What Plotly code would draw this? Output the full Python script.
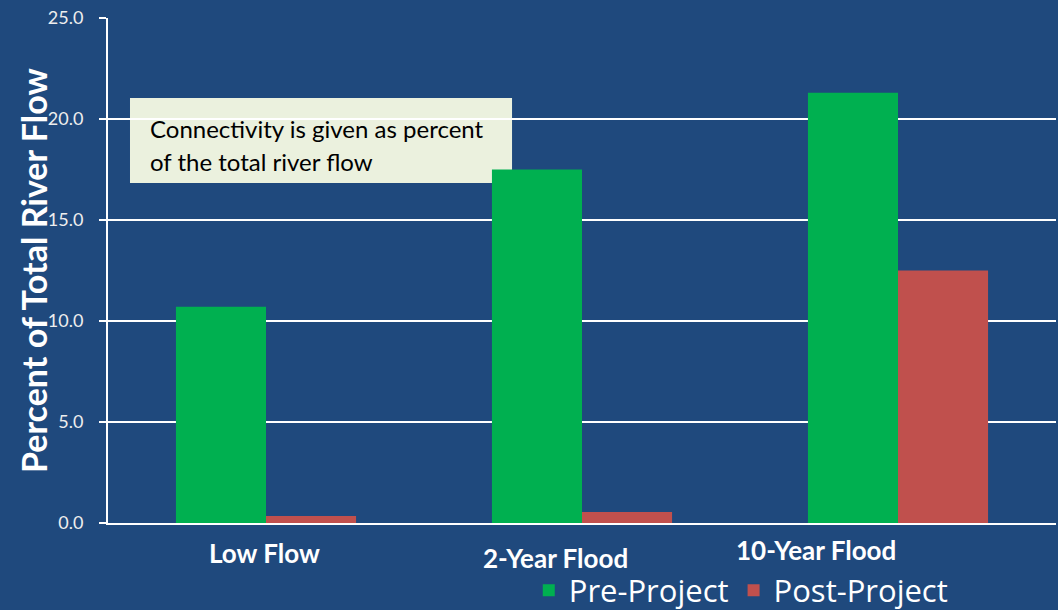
import plotly.graph_objects as go

categories = ["Low Flow", "2-Year Flood", "10-Year Flood"]
pre_project = [10.7, 17.5, 21.3]
post_project = [0.35, 0.55, 12.5]
y_ticks = [0, 5, 10, 15, 20, 25]

BG = "#1F497D"
FONT = "Lato"

fig = go.Figure()
fig.add_trace(go.Bar(x=categories, y=pre_project, name="Pre-Project",
                     marker=dict(color="#00B050", line=dict(width=0))))
fig.add_trace(go.Bar(x=categories, y=post_project, name="Post-Project",
                     marker=dict(color="#C0504D", line=dict(width=0))))

fig.update_layout(
    width=1058, height=610,
    paper_bgcolor=BG, plot_bgcolor=BG,
    margin=dict(l=108, r=2, t=18, b=87, autoexpand=False),
    barmode="group", bargap=0.43, bargroupgap=0,
    font=dict(family=FONT, color="white"),
    showlegend=True,
    legend=dict(orientation="h", x=0.668, xanchor="center", y=-0.134, yanchor="middle",
                font=dict(size=31, color="white", family="Open Sans"),
                bgcolor="rgba(0,0,0,0)", itemwidth=30, tracegroupgap=0),
    xaxis=dict(range=[-0.5, 2.5], showticklabels=False, showgrid=False,
               showline=True, linecolor="white", linewidth=2, ticks="", zeroline=False),
    yaxis=dict(range=[0, 25], tickvals=y_ticks, tickformat=".1f",
               showgrid=True, gridcolor="white", gridwidth=1.5,
               showline=True, linecolor="white", linewidth=2,
               ticks="outside", ticklen=7, tickcolor="white", tickwidth=1.5,
               ticklabelstandoff=12,
               tickfont=dict(size=18, color="#EEEEEE", family=FONT),
               zeroline=False),
)

# y-axis title
fig.add_annotation(x=-0.0786, xref="paper", y=0.5, yref="paper",
                   text="<b>Percent of Total River Flow</b>", textangle=-90,
                   showarrow=False, xanchor="center", yanchor="middle",
                   font=dict(size=34, color="white", family=FONT))

# category labels (at slightly different heights as in the original)
label_offsets = [(-2, -30), (-27, -35), (-82, -27)]
for cat, (dx, dy) in zip(categories, label_offsets):
    fig.add_annotation(x=cat, xref="x", y=0, yref="paper", text=f"<b>{cat}</b>",
                       showarrow=False, xanchor="center", yanchor="middle",
                       xshift=dx, yshift=dy,
                       font=dict(size=26, color="white", family=FONT))

# note box
fig.add_shape(type="rect", xref="paper", yref="paper",
              x0=0.0232, x1=0.4262, y0=0.6733, y1=0.8416,
              fillcolor="#EBF1DE", line=dict(width=0), layer="between")
note_lines = ["Connectivity is given as percent", "of the total river flow"]
for txt, yy in zip(note_lines, [0.782, 0.715]):
    fig.add_annotation(x=0.0422, xref="paper", y=yy, yref="paper", text=txt,
                       showarrow=False, xanchor="left", yanchor="middle",
                       font=dict(size=24, color="black", family=FONT))

fig.write_html("out.html")
